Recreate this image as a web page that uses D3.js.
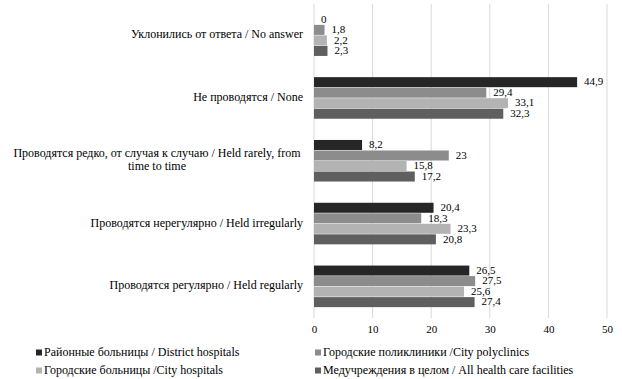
<!DOCTYPE html>
<html><head><meta charset="utf-8">
<script src="https://cdn.jsdelivr.net/npm/d3@7"></script>
<style>body{margin:0;background:#fff}svg{display:block}svg text{font-family:"Liberation Serif","Times New Roman",serif}</style>
</head><body><svg id="c" width="622" height="379"></svg>
<script>
const categories = [
  "Уклонились от ответа / No answer",
  "Не проводятся / None",
  "Проводятся редко, от  случая к случаю / Held rarely, from|time to time",
  "Проводятся нерегулярно / Held irregularly",
  "Проводятся регулярно / Held regularly"
];
const seriesNames = [
  "Районные больницы / District hospitals",
  "Городские поликлиники /City polyclinics",
  "Городские больницы /City hospitals",
  "Медучреждения в целом / All health care facilities"
];
const district = [0, 44.9, 8.2, 20.4, 26.5];
const polyclinics = [1.8, 29.4, 23, 18.3, 27.5];
const cityHospitals = [2.2, 33.1, 15.8, 23.3, 25.6];
const allFacilities = [2.3, 32.3, 17.2, 20.8, 27.4];
const xTicks = [0, 10, 20, 30, 40, 50];
const colors = ["#262626", "#8c8c8c", "#b3b3b3", "#5f5f5f"];

const series = [district, polyclinics, cityHospitals, allFacilities];
const svg = d3.select("#c");
const FONT = "'Liberation Serif', 'Times New Roman', serif";
const pL = 314, pR = 607, pT = 4, pB = 318;

const x = d3.scaleLinear().domain([0, 50]).range([pL, pR]);
const y = d3.scaleBand().domain(categories).range([pT, pB]).paddingInner(0.33).paddingOuter(0.165);
const ys = d3.scaleBand().domain(d3.range(4)).range([0, y.bandwidth()]);

// gridlines
svg.append("g").selectAll("line").data(xTicks).join("line")
  .attr("x1", d => x(d)).attr("x2", d => x(d))
  .attr("y1", pT).attr("y2", pB)
  .attr("stroke", "#d9d9d9").attr("stroke-width", 1);

// tick labels via axis
const ax = svg.append("g").attr("transform", `translate(0,${pB})`)
  .call(d3.axisBottom(x).tickValues(xTicks).tickSize(0).tickPadding(7).tickFormat(d3.format("d")));
ax.attr("font-family", FONT);
ax.select(".domain").remove();
ax.selectAll("text").attr("font-family", FONT).attr("font-size", 11).attr("fill", "#000");

const fmt = v => String(v).replace(".", ",");

series.forEach((vals, si) => {
  const g = svg.append("g");
  g.selectAll("rect").data(categories).join("rect")
    .attr("x", x(0))
    .attr("y", c => y(c) + ys(si))
    .attr("width", (c, i) => x(vals[i]) - x(0))
    .attr("height", ys.bandwidth() - 0.5)
    .attr("fill", colors[si]);
  g.selectAll("text").data(categories).join("text")
    .attr("x", (c, i) => x(vals[i]) + 7)
    .attr("y", c => y(c) + ys(si) + ys.bandwidth() / 2 + 0.5)
    .attr("dominant-baseline", "middle")
    .attr("font-family", FONT)
    .attr("font-size", 11)
    .attr("fill", "#000")
    .text((c, i) => fmt(vals[i]));
});

// category labels
const cl = svg.append("g");
categories.forEach(c => {
  const lines = c.split("|");
  const cy = y(c) + y.bandwidth() / 2;
  if (lines.length === 1) {
    cl.append("text").attr("x", 303).attr("y", cy).attr("text-anchor", "end")
      .attr("dominant-baseline", "middle").attr("font-family", FONT).attr("font-size", 12).text(c);
  } else {
    lines.forEach((l, i) => {
      cl.append("text").attr("x", 157).attr("y", cy - 6.5 + i * 13).attr("text-anchor", "middle")
        .attr("dominant-baseline", "middle").attr("font-family", FONT).attr("font-size", 12).text(l);
    });
  }
});

// legend
const legPos = [[36, 353], [315, 353], [36, 371], [315, 371]];
seriesNames.forEach((n, i) => {
  const [lx, ly] = legPos[i];
  svg.append("rect").attr("x", lx).attr("y", ly - 3.5).attr("width", 6).attr("height", 6).attr("fill", colors[i]);
  svg.append("text").attr("x", lx + 8).attr("y", ly).attr("dominant-baseline", "middle")
    .attr("font-family", FONT).attr("font-size", 12).text(n);
});
</script></body></html>
